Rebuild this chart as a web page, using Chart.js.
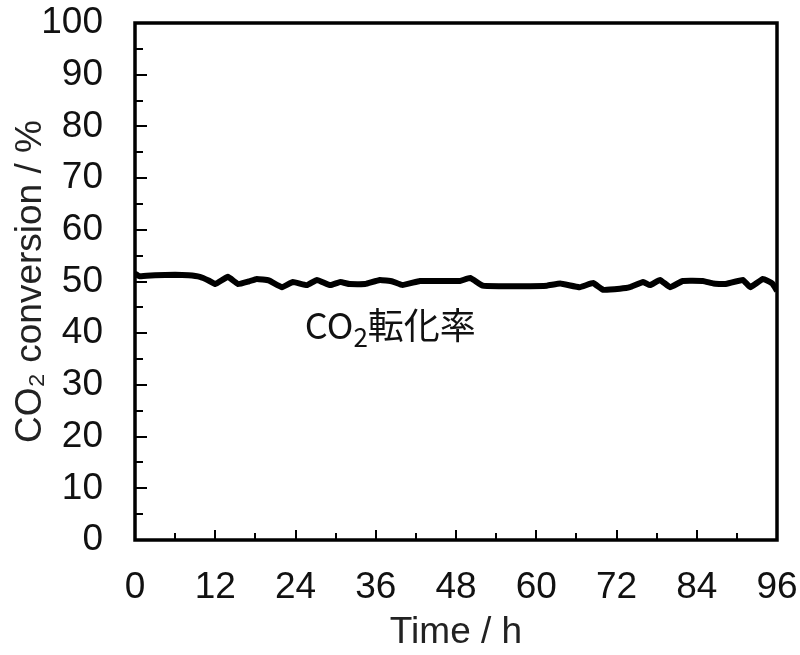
<!DOCTYPE html>
<html>
<head>
<meta charset="utf-8">
<script src="https://cdn.jsdelivr.net/npm/chart.js@4/dist/chart.umd.min.js"></script>
<style>
  body { margin: 0; background: #fff; }
  #wrap { width: 800px; height: 655px; }
</style>
</head>
<body>
<div id="wrap"><canvas id="co2Chart"></canvas></div>
<script>
// time on stream (h) and CO2 conversion (%)
const hours = [0, 0.7, 3, 6, 8, 9.7, 11, 12, 13.9, 15.4, 17, 18.2, 20, 22, 23.6, 25.7, 27.2, 29.2, 30.7,
  32.1, 34.4, 36.6, 38.5, 40, 42.6, 45, 48.6, 50.1, 52, 54.6, 57.6, 61.6, 63.6, 66.5, 68.5, 70, 72.5,
  74, 76, 77, 78.5, 80, 81.9, 84.9, 86.5, 88.2, 90.9, 92, 93.9, 95.3, 96];
const conversion = [51.5, 51.0, 51.2, 51.3, 51.2, 50.9, 50.2, 49.5, 50.9, 49.5, 50.0, 50.5, 50.2, 48.9, 49.9,
  49.3, 50.3, 49.3, 49.9, 49.5, 49.5, 50.3, 50.0, 49.3, 50.1, 50.1, 50.1, 50.7, 49.2, 49.1, 49.1, 49.2,
  49.6, 48.9, 49.7, 48.4, 48.6, 48.9, 49.9, 49.3, 50.3, 48.9, 50.1, 50.1, 49.6, 49.5, 50.3, 48.9, 50.5,
  49.6, 48.2];
const xTicks = [0, 12, 24, 36, 48, 60, 72, 84, 96];
const yTicks = [0, 10, 20, 30, 40, 50, 60, 70, 80, 90, 100];

const labelFont = { family: "'Liberation Sans', Arial, sans-serif", size: 37 };

// frame + inward ticks (major and minor)
const framePlugin = {
  id: 'frame',
  afterDatasetsDraw(chart) {
    const { ctx, chartArea: a, scales: { x, y } } = chart;
    ctx.save();
    ctx.strokeStyle = '#000';
    ctx.lineWidth = 2;
    ctx.beginPath();
    for (let h = 6; h < 96; h += 6) {
      const px = Math.round(x.getPixelForValue(h));
      const len = h % 12 === 0 ? 10 : 7;
      ctx.moveTo(px, a.bottom);
      ctx.lineTo(px, a.bottom - len);
    }
    for (let v = 5; v < 100; v += 5) {
      const py = Math.round(y.getPixelForValue(v));
      const len = v % 10 === 0 ? 12 : 8;
      ctx.moveTo(a.left, py);
      ctx.lineTo(a.left + len, py);
    }
    ctx.stroke();
    ctx.lineWidth = 3.5;
    ctx.strokeRect(a.left, a.top, a.right - a.left, a.bottom - a.top);
    ctx.restore();
  }
};

// "CO2転化率" label under the line
const notePlugin = {
  id: 'note',
  afterDraw(chart) {
    const { ctx, scales: { x, y } } = chart;
    const px = x.getPixelForValue(25.4);
    const py = y.getPixelForValue(38.8);
    ctx.save();
    ctx.fillStyle = '#111';
    ctx.textBaseline = 'alphabetic';
    ctx.font = "36px 'Noto Sans CJK JP', sans-serif";
    ctx.fillText('CO', px, py);
    let w = ctx.measureText('CO').width;
    ctx.font = "26px 'Noto Sans CJK JP', sans-serif";
    ctx.fillText('2', px + w, py + 8);
    w += ctx.measureText('2').width;
    ctx.font = "36px 'Noto Sans CJK JP', sans-serif";
    ctx.fillText('転化率', px + w, py);
    ctx.restore();
  }
};

new Chart(document.getElementById('co2Chart'), {
  type: 'line',
  data: {
    datasets: [{
      data: hours.map((h, i) => ({ x: h, y: conversion[i] })),
      borderColor: '#000',
      borderWidth: 6,
      pointRadius: 0,
      tension: 0.1,
      fill: false
    }]
  },
  options: {
    responsive: true,
    maintainAspectRatio: false,
    animation: false,
    layout: { padding: { top: 23, right: 23, left: 0, bottom: 0 } },
    plugins: { legend: { display: false }, tooltip: { enabled: false } },
    scales: {
      x: {
        type: 'linear',
        min: 0,
        max: 96,
        afterFit: (s) => { s.height = 115; s.paddingLeft = 0; s.paddingRight = 0; },
        afterBuildTicks: (s) => { s.ticks = xTicks.map(v => ({ value: v })); },
        grid: { display: false, drawTicks: false },
        border: { display: false },
        ticks: { color: '#111', font: labelFont, padding: 26, maxRotation: 0, autoSkip: false },
        title: {
          display: true,
          text: 'Time / h',
          color: '#222',
          font: labelFont,
          padding: { top: 0, bottom: 0 }
        }
      },
      y: {
        min: 0,
        max: 100,
        afterFit: (s) => { s.width = 135; s.paddingTop = 0; s.paddingBottom = 0; },
        afterBuildTicks: (s) => { s.ticks = yTicks.map(v => ({ value: v })); },
        grid: { display: false, drawTicks: false },
        border: { display: false },
        ticks: { color: '#111', font: labelFont, padding: 32 },
        title: {
          display: true,
          text: 'CO₂ conversion / %',
          color: '#222',
          font: labelFont,
          padding: { top: 9, bottom: 0 }
        }
      }
    }
  },
  plugins: [framePlugin, notePlugin]
});
</script>
</body>
</html>
